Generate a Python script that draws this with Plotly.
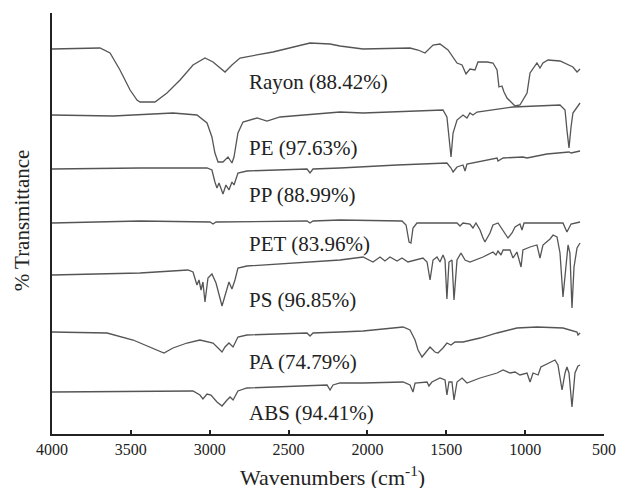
import plotly.graph_objects as go

# Wavenumbers (cm-1) and offset transmittance (arbitrary units)
rayon_wn = [4000,3696,3632,3569,3505,3461,3442,3347,3271,3188,3106,3030,2979,2903,2859,2808,2599,2364,2237,2174,
            2028,1730,1679,1635,1584,1540,1489,1432,1400,1375,1350,1318,1299,1242,1204,1178,1166,1147,1134,1115,
            1064,1033,988,969,925,906,887,855,779,697,671,652]
rayon_t = [385,386,381,364,344,334,332,332,341,354,369,376,372,362,369,376,382,391,390,388,
           385,386,384,381,389,390,384,371,369,360,365,364,372,372,371,364,347,348,342,336,
           328,329,341,361,371,366,371,374,373,367,362,365]

pe_wn = [4000,3613,3233,3081,3017,2986,2967,2947,2916,2884,2859,2846,2821,2789,2700,2637,2554,2174,2028,1521,
         1496,1470,1457,1432,1394,1369,1350,1331,1305,1077,779,747,735,722,709,697,652]
pe_t = [319,318,321,319,311,297,281,272,272,277,271,277,301,312,316,313,317,322,321,324,
        317,277,301,314,319,316,321,319,322,327,329,324,304,286,307,321,331]

pp_wn = [4000,3442,3017,2986,2967,2954,2941,2916,2897,2878,2859,2846,2821,2764,2383,2364,2345,2174,1812,1496,
         1470,1457,1432,1394,1381,1369,1178,1172,1140,1014,988,862,722,709,652]
pp_t = [265,266,266,264,252,246,251,240,249,244,252,249,261,263,265,261,265,266,269,271,
        266,262,267,269,263,270,276,273,276,277,276,280,282,281,283]

pet_wn = [4000,3442,2998,2979,2960,2383,2364,2345,2174,1781,1755,1736,1724,1711,1686,1432,1413,1394,1350,1331,
          1312,1286,1267,1255,1223,1204,1172,1140,1109,1083,1064,1033,1020,1007,760,735,709,652]
pet_t = [211,213,212,210,212,213,211,213,214,213,209,192,191,206,211,211,208,211,210,206,
         211,204,196,192,201,209,211,204,196,201,207,210,204,211,211,202,210,212]

ps_wn = [4000,3442,3138,3106,3081,3068,3055,3043,3030,3011,2986,2960,2922,2890,2878,2859,2840,2821,2764,2174,
         2028,1965,1920,1889,1857,1812,1781,1743,1686,1648,1622,1603,1584,1559,1540,1521,1508,1496,1483,1464,
         1451,1432,1407,1381,1350,1267,1204,1185,1172,1153,1140,1096,1077,1052,1026,1014,969,925,906,887,
         842,823,798,779,760,741,728,716,703,690,671,652]
ps_t = [159,161,164,162,149,154,144,152,132,156,160,151,128,147,152,145,154,166,168,174,
        177,172,177,173,177,173,176,172,174,176,172,154,174,177,172,179,174,135,172,174,
        134,174,181,174,172,177,182,179,183,179,184,184,176,182,167,184,187,189,176,189,
        195,199,197,181,137,167,189,181,126,167,186,191]

pa_wn = [4000,3651,3486,3360,3290,3233,3144,3062,2979,2947,2922,2903,2878,2852,2821,2764,2383,2364,2345,2174,
         2028,1774,1730,1698,1679,1654,1622,1603,1572,1553,1521,1496,1470,1445,1394,1286,1178,1052,925,760,
         671,665,652]
pa_t = [102,101,94,86,81,86,91,94,91,86,82,87,91,87,97,99,101,98,101,102,
        103,107,104,94,84,77,84,87,82,81,86,91,89,92,92,96,101,106,107,106,
        102,99,101]

abs_wn = [4000,3442,3106,3062,3043,3017,2992,2954,2922,2890,2871,2852,2821,2764,2256,2237,2218,2174,2028,1774,
          1730,1711,1698,1622,1610,1591,1540,1508,1496,1483,1464,1451,1432,1400,1369,1286,1178,1140,1096,1064,
          1033,988,969,950,918,900,842,811,792,766,747,735,722,703,684,665,652]
abs_t = [42,43,43,39,35,40,39,32,28,34,37,34,43,46,49,44,49,51,51,52,
         49,42,51,52,48,52,56,54,39,52,52,34,52,56,51,56,61,64,61,62,
         59,61,52,61,59,67,72,74,69,44,61,67,61,27,61,68,69]

labels = ["Rayon (88.42%)", "PE (97.63%)", "PP (88.99%)", "PET (83.96%)",
          "PS (96.85%)", "PA (74.79%)", "ABS (94.41%)"]
label_y = [352, 286, 239, 190, 134, 72, 21]
label_x = 2764

series = [(rayon_wn, rayon_t), (pe_wn, pe_t), (pp_wn, pp_t), (pet_wn, pet_t),
          (ps_wn, ps_t), (pa_wn, pa_t), (abs_wn, abs_t)]

serif = "Liberation Serif"
ink = "#222222"

fig = go.Figure()
for (wn, t), name in zip(series, labels):
    fig.add_trace(go.Scatter(x=wn, y=t, mode="lines", name=name,
                             line=dict(color="#555555", width=1.3),
                             showlegend=False, hoverinfo="skip"))

for name, ly in zip(labels, label_y):
    fig.add_annotation(x=label_x, y=ly, text=name, showarrow=False,
                       xanchor="left", yanchor="middle",
                       font=dict(family=serif, size=21, color=ink))

fig.add_annotation(xref="paper", yref="paper", x=-0.054, y=0.508,
                   text="% Transmittance", textangle=-90, showarrow=False,
                   xanchor="center", yanchor="middle",
                   font=dict(family=serif, size=21, color=ink))
fig.add_annotation(xref="paper", yref="paper", x=0.509, y=-0.10,
                   text="Wavenumbers (cm<sup>-1</sup>)", showarrow=False,
                   xanchor="center", yanchor="middle",
                   font=dict(family=serif, size=22, color=ink))

fig.update_xaxes(range=[4000, 500], tickmode="array",
                 tickvals=[4000, 3500, 3000, 2500, 2000, 1500, 1000, 500],
                 ticks="inside", ticklen=4, tickwidth=1.5, tickcolor=ink,
                 showline=True, linecolor=ink, linewidth=1.5,
                 showgrid=False, zeroline=False,
                 tickfont=dict(family=serif, size=16, color=ink))
fig.update_yaxes(range=[0, 421], showticklabels=False, ticks="",
                 showline=True, linecolor=ink, linewidth=1.5,
                 showgrid=False, zeroline=False)

fig.update_layout(width=629, height=496,
                  margin=dict(l=52, r=25, t=13, b=62),
                  plot_bgcolor="white", paper_bgcolor="white")

fig.write_html("out.html", config={"displayModeBar": False},
               post_script="document.body.style.margin='0';document.body.style.overflow='hidden';")
